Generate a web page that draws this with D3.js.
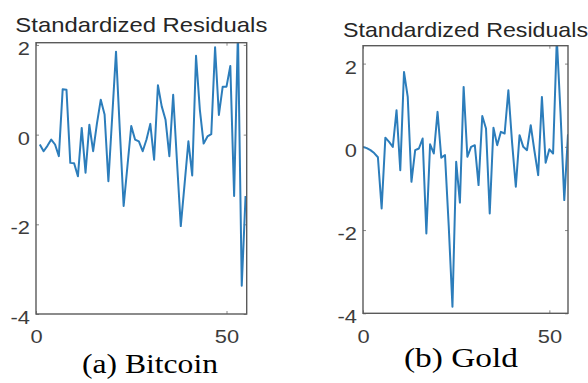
<!DOCTYPE html>
<html>
<head>
<meta charset="utf-8">
<script src="https://cdn.jsdelivr.net/npm/d3@7"></script>
<style>
  body { margin: 0; background: #fff; }
  svg { display: block; }
</style>
</head>
<body>
<div id="main"></div>
<script>
// residual values
const bitcoinResid = [-0.22, -0.37, -0.25, -0.11, -0.22, -0.48, 1.01, 1.0, -0.63, -0.64,
  -0.93, 0.15, -0.85, 0.22, -0.37, 0.25, 0.78, 0.45, -1.04, 0.4,
  1.85, 0.1, -1.59, -0.7, 0.19, -0.11, -0.15, -0.37, -0.11, 0.24,
  -0.56, 1.1, 0.63, 0.33, -0.48, 0.89, -0.6, -2.04, -1.1, -0.15,
  -0.91, 1.76, 0.56, -0.2, -0.04, 0.01, 1.95, 0.44, 1.07, 1.07,
  1.53, -1.37, 2.3, -3.37, -1.37];
const bitcoinStart = 1;

const goldResid = [0.0, -0.03, -0.08, -0.15, -0.25, -1.48, 0.22, 0.12, 0.0, 0.88,
  -0.56, 1.8, 1.2, -0.84, -0.08, -0.04, 0.2, -2.08, 0.06, -0.16,
  0.84, -0.26, -0.2, -1.9, -3.84, -0.36, -1.34, 1.44, -0.24, 0.0,
  0.04, -0.92, 0.74, 0.44, -1.6, 0.46, 0.04, 0.36, 0.32, 1.36,
  0.1, -0.96, 0.28, 0.0, -0.08, 0.52, -0.1, -0.68, 1.2, -0.38,
  -0.06, -0.16, 2.6, 0.8, -1.28, 0.3];
const goldStart = 0;

const yTicks = [-4, -2, 0, 2];
const xTicks = [0, 50];
const panelTitle = 'Standardized Residuals';
const captions = ['(a) Bitcoin', '(b) Gold'];

const W = 588, H = 383;

const svg = d3.select('#main').append('svg')
    .attr('width', W)
    .attr('height', H)

const panels = [
  {data: bitcoinResid, start: bitcoinStart, caption: captions[0],
   left: 36, right: 246.7, top: 42.7, bottom: 314,
   xDom: [0, 55.3], yDom: [-4, 2.05],
   titleY: 31.7, titleW: 252, capX: 150, capY: 372.5, capW: 136},
  {data: goldResid, start: goldStart, caption: captions[1],
   left: 363, right: 568, top: 45.7, bottom: 313.3,
   xDom: [0, 55], yDom: [-4, 2.43],
   titleY: 36.5, titleW: 245, capX: 461, capY: 366.5, capW: 114}
];

// stretch text horizontally a bit, like the scanned figure
function widen(sel, f) {
  sel.each(function () {
    const w = this.getComputedTextLength();
    d3.select(this).attr('textLength', w * f).attr('lengthAdjust', 'spacingAndGlyphs');
  });
}

const fmt = (d) => String(d);

panels.forEach((p, idx) => {
  const g = svg.append('g');

  const xScale = d3.scaleLinear().domain(p.xDom).range([p.left, p.right]);
  const yScale = d3.scaleLinear().domain(p.yDom).range([p.bottom, p.top]);

  const clipId = 'clip' + idx;
  g.append('clipPath').attr('id', clipId)
    .append('rect')
    .attr('x', p.left).attr('y', p.top)
    .attr('width', p.right - p.left).attr('height', p.bottom - p.top);

  // inward ticks on all four sides
  const yAxis = d3.axisLeft(yScale).tickValues(yTicks).tickFormat(fmt)
    .tickSizeInner(-3).tickSizeOuter(0).tickPadding(6);
  const xAxis = d3.axisBottom(xScale).tickValues(xTicks).tickFormat(fmt)
    .tickSizeInner(-3).tickSizeOuter(0).tickPadding(16);

  const ya = g.append('g').attr('transform', `translate(${p.left},0)`).call(yAxis);
  const xa = g.append('g').attr('transform', `translate(0,${p.bottom})`).call(xAxis);
  g.append('g').attr('transform', `translate(${p.right},0)`)
    .call(d3.axisRight(yScale).tickValues(yTicks).tickSizeInner(-3).tickSizeOuter(0).tickFormat(''));
  g.append('g').attr('transform', `translate(0,${p.top})`)
    .call(d3.axisTop(xScale).tickValues(xTicks).tickSizeInner(-3).tickSizeOuter(0).tickFormat(''));

  g.selectAll('.domain').remove();
  g.selectAll('.tick line').attr('stroke', '#8a8a8a').attr('stroke-width', 1);

  [ya, xa].forEach((a) => {
    a.selectAll('text')
      .attr('font-family', '"Liberation Sans", Arial, sans-serif')
      .attr('font-size', 19)
      .attr('fill', '#3c3c3c');
  });
  ya.selectAll('text').attr('dy', '0.5em');
  widen(ya.selectAll('text'), 1.15);
  widen(xa.selectAll('text'), 1.15);

  // data line
  const line = d3.line()
    .x((d, i) => xScale(i + p.start))
    .y((d) => yScale(d));

  g.append('path')
    .datum(p.data)
    .attr('clip-path', `url(#${clipId})`)
    .attr('d', line)
    .attr('fill', 'none')
    .attr('stroke', '#2c7dbb')
    .attr('stroke-width', 2)
    .attr('stroke-linejoin', 'round');

  // box
  g.append('rect')
    .attr('x', p.left).attr('y', p.top)
    .attr('width', p.right - p.left).attr('height', p.bottom - p.top)
    .attr('fill', 'none')
    .attr('stroke', '#5a5a5a')
    .attr('stroke-width', 1.4);

  g.append('text')
    .attr('x', (p.left + p.right) / 2)
    .attr('y', p.titleY)
    .attr('text-anchor', 'middle')
    .attr('font-family', '"Liberation Sans", Arial, sans-serif')
    .attr('font-size', 21)
    .attr('fill', '#262626')
    .attr('textLength', p.titleW)
    .attr('lengthAdjust', 'spacingAndGlyphs')
    .text(panelTitle);

  g.append('text')
    .attr('x', p.capX)
    .attr('y', p.capY)
    .attr('text-anchor', 'middle')
    .attr('font-family', '"Liberation Serif", "Times New Roman", serif')
    .attr('font-size', 28)
    .attr('fill', '#000')
    .attr('textLength', p.capW)
    .attr('lengthAdjust', 'spacingAndGlyphs')
    .text(p.caption);
});
</script>
</body>
</html>
